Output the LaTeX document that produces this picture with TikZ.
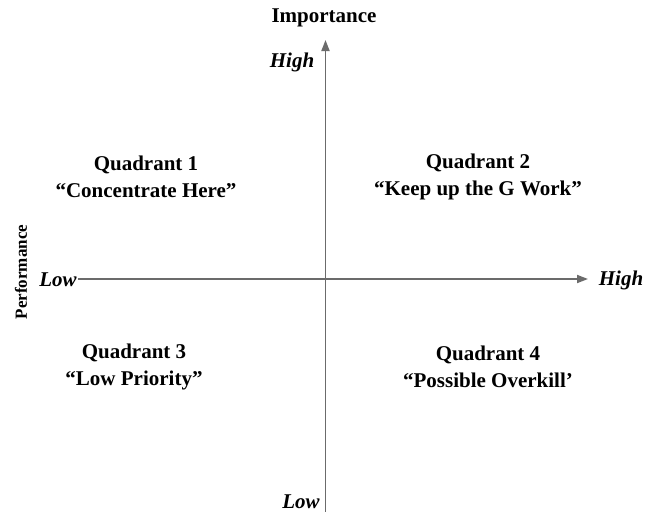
\documentclass[tikz,border=0pt]{standalone}
\usepackage{fontspec}
\setmainfont{Liberation Serif}
\usetikzlibrary{arrows.meta}
\definecolor{axisgray}{HTML}{6B6B6B}
\tikzset{
  axisline/.style={draw=axisgray, line width=1.8pt},
  axisarrow/.style={axisline, -{Triangle[length=11pt,width=8pt]}},
  quad/.style={font=\fontsize{21}{27}\selectfont\bfseries, align=center, inner sep=0pt},
  lab/.style={font=\fontsize{21}{25}\selectfont\bfseries\itshape, inner sep=0pt},
  title/.style={font=\fontsize{21}{25}\selectfont\bfseries, inner sep=0pt}
}
\begin{document}
\begin{tikzpicture}[x=1pt,y=-1pt]
\fill[white] (0,0) rectangle (649,512);
\useasboundingbox (0,0) rectangle (649,512);
% axis coordinates
\coordinate (vbot) at (325.5,512);
\coordinate (vtop) at (325.5,40);
\coordinate (hleft) at (78,279);
\coordinate (hright) at (588,279);
\draw[axisarrow] (vbot) -- (vtop);
\draw[axisarrow] (hleft) -- (hright);
% labels
\node[title] (imp) at (324,18) {Importance};
\node[lab] (vhigh) at (292,62) {High};
\node[lab] (vlow) at (301,502) {Low};
\node[lab] (hlow) at (58,280) {Low};
\node[lab] (hhigh) at (621,280) {High};
\node[font=\fontsize{17}{20}\selectfont\bfseries, rotate=90, inner sep=0pt] (perf) at (21,272) {Performance};
% quadrants
\node[quad] (q1) at (146,177) {Quadrant 1\\“Concentrate Here”};
\node[quad] (q2) at (478,177) {Quadrant 2\\“Keep up the G Work”};
\node[quad] (q3) at (134,367) {Quadrant 3\\“Low Priority”};
\node[quad] (q4) at (488,367) {Quadrant 4\\“Possible Overkill’};
\end{tikzpicture}
\end{document}
